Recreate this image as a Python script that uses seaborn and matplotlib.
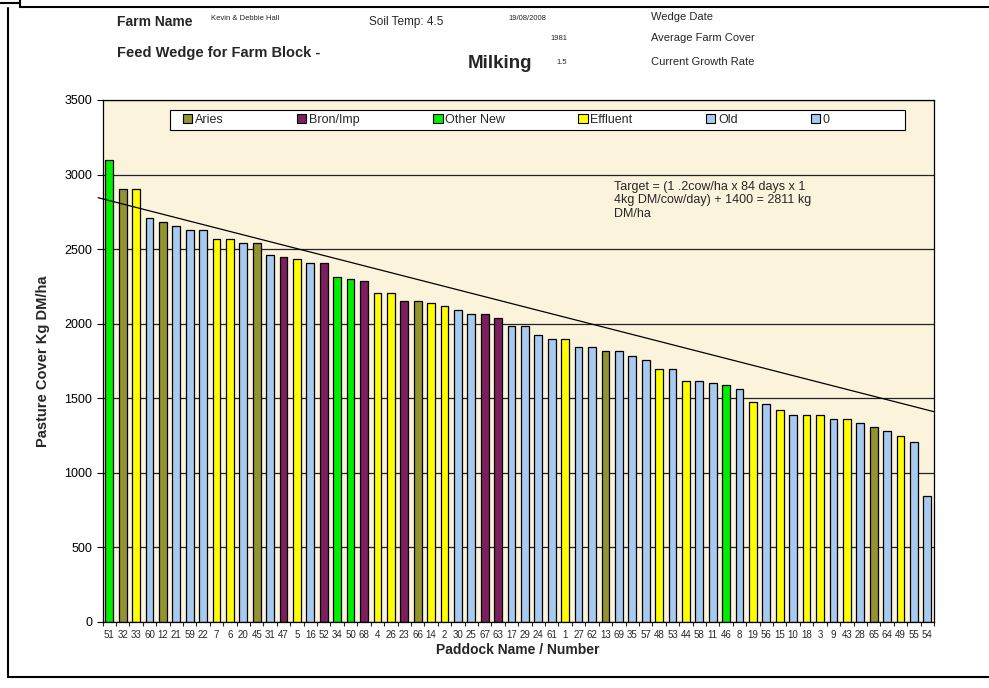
import matplotlib
matplotlib.use("Agg")
import matplotlib.pyplot as plt
from matplotlib.patches import Patch, Rectangle
from matplotlib.lines import Line2D
import seaborn as sns
import pandas as pd

# paddocks in wedge order (highest cover first)
paddocks = ["51", "32", "33", "60", "12", "21", "59", "22", "7", "6",
            "20", "45", "31", "47", "5", "16", "52", "34", "50", "68",
            "4", "26", "23", "66", "14", "2", "30", "25", "67", "63",
            "17", "29", "24", "61", "1", "27", "62", "13", "69", "35",
            "57", "48", "53", "44", "58", "11", "46", "8", "19", "56",
            "15", "10", "18", "3", "9", "43", "28", "65", "64", "49",
            "55", "54"]

cover = [3100, 2905, 2905, 2710, 2683, 2655, 2627, 2627, 2571, 2571,
         2542, 2540, 2458, 2444, 2433, 2404, 2404, 2316, 2303, 2289,
         2205, 2205, 2153, 2153, 2137, 2121, 2095, 2064, 2064, 2038,
         1985, 1985, 1925, 1900, 1900, 1843, 1843, 1815, 1815, 1786,
         1758, 1698, 1698, 1616, 1616, 1602, 1590, 1561, 1476, 1462,
         1419, 1390, 1390, 1390, 1364, 1364, 1337, 1306, 1281, 1250,
         1210, 847]

block = ["Other New", "Aries", "Effluent", "Old", "Aries", "Old", "Old", "Old", "Effluent", "Effluent",
         "Old", "Aries", "Old", "Bron/Imp", "Effluent", "Old", "Bron/Imp", "Other New", "Other New", "Bron/Imp",
         "Effluent", "Effluent", "Bron/Imp", "Aries", "Effluent", "Effluent", "Old", "Old", "Bron/Imp", "Bron/Imp",
         "Old", "Old", "Old", "Old", "Effluent", "Old", "Old", "Aries", "Old", "Old",
         "Old", "Effluent", "Old", "Effluent", "Old", "Old", "Other New", "Old", "Effluent", "Old",
         "Effluent", "Old", "Effluent", "Effluent", "Old", "Effluent", "Old", "Aries", "Old", "Effluent",
         "Old", "Old"]

legend_names = ["Aries", "Bron/Imp", "Other New", "Effluent", "Old", "0"]
legend_colors = ["#939330", "#7B1F5E", "#00EE00", "#FFFF00", "#A6CAF0", "#A6CAF0"]

# target line end points (left / right of plot) and note
target_x = [-0.83, 61.5]
target_y = [2845, 1410]
target_note = "Target = (1 .2cow/ha x 84 days x 1\n4kg DM/cow/day) + 1400 = 2811 kg\nDM/ha"

df = pd.DataFrame({"paddock": paddocks, "cover": cover, "block": block})
palette = dict(zip(legend_names[:5], legend_colors[:5]))

sns.set_theme(style="white")
plt.rcParams["font.family"] = ["Liberation Sans", "DejaVu Sans"]

fig = plt.figure(figsize=(9.89, 6.88), dpi=100)
ax = fig.add_axes([102.5 / 989, 1 - 622 / 688, (934 - 102.5) / 989, (622 - 100) / 688])
ax.set_facecolor("#FCF3DD")

sns.barplot(data=df, x="paddock", y="cover", hue="block", order=paddocks,
            palette=palette, saturation=1, dodge=False, width=0.58, edgecolor="black",
            linewidth=0.9, errorbar=None, legend=False, ax=ax)

ax.plot(target_x, target_y, color="black", lw=0.9, clip_on=False)
ax.text(0.615, 0.845, target_note, transform=ax.transAxes, fontsize=9,
        va="top", ha="left", linespacing=1.15)

ax.set_xlim(-0.5, len(paddocks) - 0.5)
ax.set_ylim(0, 3500)
ax.set_yticks(range(0, 3501, 500))
ax.yaxis.grid(True, color="#222222", lw=0.9)
ax.set_axisbelow(True)
ax.tick_params(axis="y", labelsize=9, length=4, width=0.8, direction="out", left=True, colors="black")
ax.tick_params(axis="x", labelsize=7, length=0, pad=6)
ax.set_xticks([i + 0.5 for i in range(-1, len(paddocks))], minor=True)
ax.tick_params(axis="x", which="minor", length=3, width=0.8, direction="out", bottom=True)
for s in ax.spines.values():
    s.set_color("black")
    s.set_linewidth(0.9)

ax.set_ylabel("Pasture Cover Kg DM/ha", fontsize=10.5, fontweight="bold", labelpad=10)
ax.set_xlabel("Paddock Name / Number", fontsize=10, fontweight="bold", labelpad=2)

# legend: frame drawn separately, entries spread over the left part of it
ax.add_patch(Rectangle((0.0812, 0.9425), 0.8838, 0.0385, transform=ax.transAxes,
                       facecolor="white", edgecolor="black", lw=0.8, zorder=5, clip_on=False))
handles = [Patch(facecolor=c, edgecolor="black", linewidth=0.8) for c in legend_colors]
leg = ax.legend(handles, legend_names, ncol=6, mode="expand", loc="center",
                bbox_to_anchor=(0.0968, 0.9425, 0.778, 0.0385), fontsize=9,
                frameon=False, handlelength=0.75, handleheight=0.75,
                handletextpad=0.2, borderpad=0, borderaxespad=0)
leg.set_zorder(6)

# header text
def px(x, y):
    return x / 989, 1 - y / 688

fig.text(*px(117, 22), "Farm Name", fontsize=10, fontweight="bold", va="center")
fig.text(*px(211, 19), "Kevin & Debbie Hall", fontsize=5.5, va="center")
fig.text(*px(369, 22), "Soil Temp: 4.5", fontsize=8.5, va="center")
fig.text(*px(508, 18), "19/08/2008", fontsize=5.5, va="center")
fig.text(*px(651, 17), "Wedge Date", fontsize=8, va="center")
fig.text(*px(550, 38), "1981", fontsize=5.5, va="center")
fig.text(*px(651, 38), "Average Farm Cover", fontsize=8, va="center")
fig.text(*px(117, 53), "Feed Wedge for Farm Block -", fontsize=10.5, fontweight="bold", va="center")
fig.text(*px(468, 63), "Milking", fontsize=13.5, fontweight="bold", va="center")
fig.text(*px(556, 62), "1.5", fontsize=5.5, va="center")
fig.text(*px(651, 62), "Current Growth Rate", fontsize=8, va="center")

# page border lines
for xs, ys in [([8, 8], [8, 677]), ([8, 989], [677, 677]), ([20, 989], [7, 7]),
               ([0, 20], [3, 3]), ([20, 20], [0, 7])]:
    fig.add_artist(Line2D([x / 989 for x in xs], [1 - y / 688 for y in ys],
                          color="black", lw=1.5))

fig.savefig("out.png", dpi=100)
